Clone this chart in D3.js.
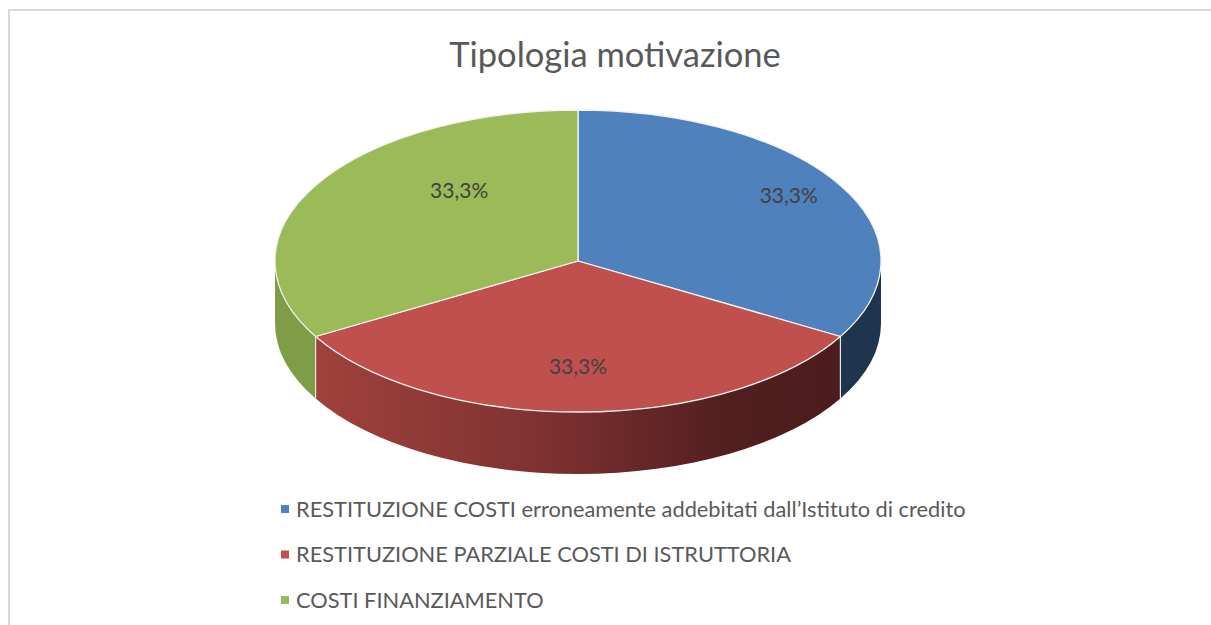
<!DOCTYPE html>
<html>
<head>
<meta charset="utf-8">
<script src="https://cdn.jsdelivr.net/npm/d3@7"></script>
<style>
  body { margin: 0; background: #fff; }
  svg { display: block; }
</style>
</head>
<body>
<svg id="drawing_region"></svg>
<script>
// data
const title = "Tipologia motivazione";
const categories = [
    "RESTITUZIONE COSTI erroneamente addebitati dall\u2019Istituto di credito",
    "RESTITUZIONE PARZIALE COSTI DI ISTRUTTORIA",
    "COSTI FINANZIAMENTO"
];
const values = [1, 1, 1];
const labels = ["33,3%", "33,3%", "33,3%"];

// style
const topColors = ["#4F81BD", "#C0504D", "#9BBB59"];
const sideColors = ["#1F344F", "url(#redSide)", "#7F9C47"];
// where excel put each data label: [angle in degrees, fraction of radius]
const labelPlace = [[58, 0.82], [180, 0.70], [320, 0.61]];

const config = {
    width: 1211,
    height: 625,
    cx: 578, cy: 261,
    rx: 303, ry: 151,
    depth: 62
};

const svg = d3.select('#drawing_region')
    .attr('width', config.width)
    .attr('height', config.height);

const defs = svg.append('defs');
const grad = defs.append('linearGradient')
    .attr('id', 'redSide')
    .attr('gradientUnits', 'userSpaceOnUse')
    .attr('x1', config.cx - config.rx).attr('y1', 0)
    .attr('x2', config.cx + config.rx).attr('y2', 0);
grad.append('stop').attr('offset', '0%').attr('stop-color', '#A6443F');
grad.append('stop').attr('offset', '45%').attr('stop-color', '#7E3131');
grad.append('stop').attr('offset', '75%').attr('stop-color', '#521E1E');
grad.append('stop').attr('offset', '100%').attr('stop-color', '#4A1B1B');

// frame
svg.append('rect')
    .attr('x', 9).attr('y', 10)
    .attr('width', config.width + 20).attr('height', config.height + 20)
    .attr('fill', 'none')
    .attr('stroke', '#D9D9D9')
    .attr('stroke-width', 2);

svg.append('text')
    .attr('x', 615)
    .attr('y', 67)
    .attr('text-anchor', 'middle')
    .attr('font-family', 'Lato, "Open Sans", sans-serif')
    .attr('font-size', '34.5px')
    .attr('fill', '#595959')
    .text(title);

const pie = d3.pie().sort(null).value(d => d);
const arcs = pie(values);

// angle measured clockwise from 12 o'clock
const pt = (a, dy = 0) => [
    config.cx + config.rx * Math.sin(a),
    config.cy - config.ry * Math.cos(a) + dy
];

const chart = svg.append('g');

// sides: only the part facing the viewer (between 90 and 270 deg)
arcs.forEach((d, i) => {
    const a0 = Math.max(d.startAngle, Math.PI / 2);
    const a1 = Math.min(d.endAngle, Math.PI * 3 / 2);
    if (a1 <= a0) return;
    const p0 = pt(a0), p1 = pt(a1);
    const q0 = pt(a0, config.depth), q1 = pt(a1, config.depth);
    const path = `M${p0} A${config.rx},${config.ry} 0 0 1 ${p1}`
        + ` L${q1} A${config.rx},${config.ry} 0 0 0 ${q0} Z`;
    chart.append('path')
        .attr('d', path)
        .attr('fill', sideColors[i])
        .attr('stroke', 'none');
});

// vertical edges at visible slice boundaries
arcs.forEach(d => {
    const a = d.startAngle;
    if (a > Math.PI / 2 && a < Math.PI * 3 / 2) {
        chart.append('line')
            .attr('x1', pt(a)[0]).attr('y1', pt(a)[1])
            .attr('x2', pt(a)[0]).attr('y2', pt(a, config.depth)[1])
            .attr('stroke', '#E8E8E8')
            .attr('stroke-width', 1.2);
    }
});

// top faces
arcs.forEach((d, i) => {
    const p0 = pt(d.startAngle), p1 = pt(d.endAngle);
    const large = (d.endAngle - d.startAngle) > Math.PI ? 1 : 0;
    chart.append('path')
        .attr('d', `M${config.cx},${config.cy} L${p0} A${config.rx},${config.ry} 0 ${large} 1 ${p1} Z`)
        .attr('fill', topColors[i])
        .attr('stroke', '#F2F2F2')
        .attr('stroke-width', 1.3)
        .attr('stroke-linejoin', 'round');
});

// data labels
arcs.forEach((d, i) => {
    const a = labelPlace[i][0] * Math.PI / 180;
    const k = labelPlace[i][1];
    chart.append('text')
        .attr('x', config.cx + k * config.rx * Math.sin(a))
        .attr('y', config.cy - k * config.ry * Math.cos(a))
        .attr('dy', '0.35em')
        .attr('text-anchor', 'middle')
        .attr('font-family', 'Lato, "Open Sans", sans-serif')
        .attr('font-size', '21px')
        .attr('fill', '#404040')
        .text(labels[i]);
});

// legend
const legend = svg.append('g')
    .attr('transform', 'translate(281, 509)');
const rows = legend.selectAll('g')
    .data(categories)
    .join('g')
    .attr('transform', (d, i) => `translate(0, ${i * 45.5})`);
rows.append('rect')
    .attr('x', 0).attr('y', -4)
    .attr('width', 8).attr('height', 8)
    .attr('fill', (d, i) => topColors[i]);
rows.append('text')
    .attr('x', 15)
    .attr('y', 0)
    .attr('dy', '0.35em')
    .attr('font-family', 'Lato, "Open Sans", sans-serif')
    .attr('font-size', '21.8px')
    .attr('fill', '#595959')
    .text(d => d);
</script>
</body>
</html>
